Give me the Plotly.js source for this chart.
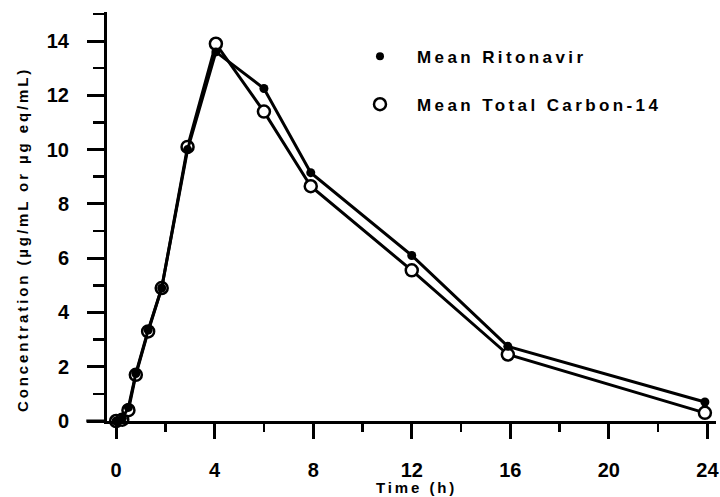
<!DOCTYPE html>
<html>
<head>
<meta charset="utf-8">
<script src="https://cdn.plot.ly/plotly-3.0.1.min.js"></script>
<style>
  html, body { margin: 0; padding: 0; background: #fff; }
  #chart { width: 720px; height: 497px; }
  .legendtext { letter-spacing: 3.4px; }
  .annotation-text { letter-spacing: 2.9px; }
</style>
</head>
<body>
<div id="chart"></div>
<script>
// Sampling times (h)
const timeHours = [0, 0.25, 0.5, 0.8, 1.3, 1.85, 2.9, 4.05, 6, 7.9, 12, 15.9, 23.9];
// Mean Ritonavir (µg/mL)
const meanRitonavir = [0, 0.1, 0.5, 1.75, 3.35, 4.9, 10.0, 13.6, 12.25, 9.15, 6.1, 2.75, 0.7];
// Mean Total Carbon-14 (µg eq/mL)
const meanTotalC14 = [0, 0.05, 0.4, 1.7, 3.3, 4.9, 10.1, 13.9, 11.4, 8.65, 5.55, 2.45, 0.3];

const seriesNames = ['Mean Ritonavir', 'Mean Total Carbon-14'];
const xTickVals = [0, 4, 8, 12, 16, 20, 24];
const yTickVals = [0, 2, 4, 6, 8, 10, 12, 14];
const xTitle = 'Time (h)';
const yTitle = 'Concentration (µg/mL or µg eq/mL)';

const tickFont = { family: 'Liberation Sans, Arial, sans-serif', size: 20, color: '#000', weight: 'bold' };
const legendFont = { family: 'Liberation Sans, Arial, sans-serif', size: 17, color: '#000', weight: 'bold' };

const traces = [
  { // total C-14 line
    x: timeHours, y: meanTotalC14, mode: 'lines+markers', showlegend: false, cliponaxis: false,
    line: { color: '#000', width: 3 },
    marker: { symbol: 'circle', size: 12, color: '#fff', line: { color: '#000', width: 2.5 } }
  },
  { // ritonavir line
    x: timeHours, y: meanRitonavir, mode: 'lines+markers', showlegend: false, cliponaxis: false,
    line: { color: '#000', width: 3 },
    marker: { symbol: 'circle', size: 9, color: '#000' }
  },
  { // legend entries
    x: [null], y: [null], mode: 'markers', name: seriesNames[0], legendgroup: 'a',
    marker: { symbol: 'circle', size: 8, color: '#000' }
  },
  {
    x: [null], y: [null], mode: 'markers', name: seriesNames[1], legendgroup: 'b',
    marker: { symbol: 'circle', size: 12, color: '#fff', line: { color: '#000', width: 2.5 } }
  }
];

const layout = {
  width: 720, height: 497,
  margin: { l: 107, r: 4, t: 12, b: 76 },
  paper_bgcolor: '#fff', plot_bgcolor: '#fff',
  showlegend: true,
  legend: {
    x: 0.3875, y: 0.935, xanchor: 'left', yanchor: 'top',
    font: legendFont, traceorder: 'grouped', tracegroupgap: 23,
    bgcolor: 'rgba(0,0,0,0)', itemwidth: 64
  },
  xaxis: {
    range: [-0.37, 24.35], showgrid: false, zeroline: false,
    showline: true, linecolor: '#000', linewidth: 3,
    tickmode: 'array', tickvals: xTickVals, ticktext: xTickVals.map(String),
    ticks: 'outside', ticklen: 15, tickwidth: 3, tickcolor: '#000',
    minor: { tick0: 0, dtick: 2, ticks: 'outside', ticklen: 8, tickwidth: 2.5, tickcolor: '#000', showgrid: false },
    tickfont: tickFont, ticklabelstandoff: 14, fixedrange: true
  },
  yaxis: {
    range: [0, 15.07], showgrid: false, zeroline: false,
    showline: true, linecolor: '#000', linewidth: 3,
    tickmode: 'array', tickvals: yTickVals, ticktext: yTickVals.map(String),
    ticks: 'outside', ticklen: 17, tickwidth: 3, tickcolor: '#000',
    minor: { tick0: 0, dtick: 1, ticks: 'outside', ticklen: 11, tickwidth: 2.5, tickcolor: '#000', showgrid: false },
    tickfont: tickFont, ticklabelstandoff: 14, fixedrange: true
  },
  shapes: [
    { type: 'line', xref: 'paper', yref: 'paper', x0: -0.034, x1: 0, y0: 0, y1: 0,
      line: { color: '#000', width: 3 } }
  ],
  annotations: [
    { text: xTitle, xref: 'paper', yref: 'paper', x: (416 - 107) / 609, y: -(487 - 421) / 409,
      xanchor: 'center', yanchor: 'middle', showarrow: false,
      font: { family: 'Liberation Sans, Arial, sans-serif', size: 15, color: '#000', weight: 'bold' } },
    { text: yTitle, xref: 'paper', yref: 'paper', x: (22 - 107) / 609, y: (421 - 240) / 409,
      xanchor: 'center', yanchor: 'middle', showarrow: false, textangle: -90,
      font: { family: 'Liberation Sans, Arial, sans-serif', size: 15, color: '#000', weight: 'bold' } }
  ]
};

Plotly.newPlot('chart', traces, layout, { staticPlot: true, displayModeBar: false });
</script>
</body>
</html>
